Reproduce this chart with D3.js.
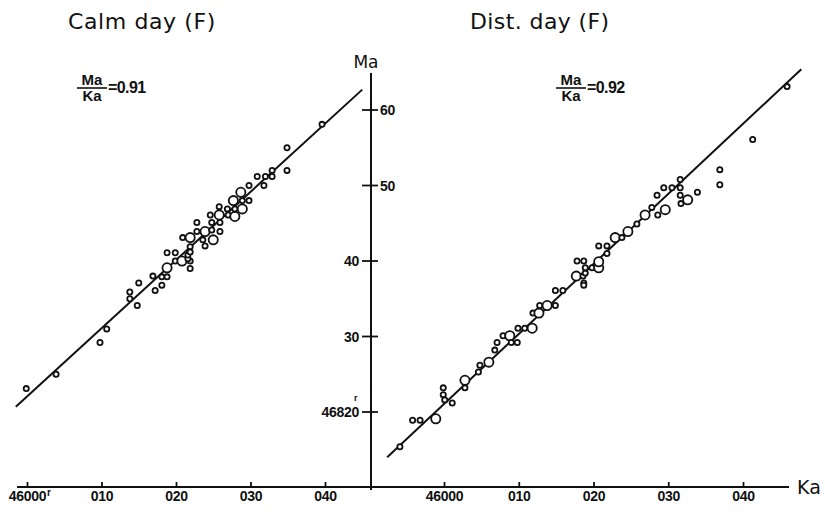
<!DOCTYPE html>
<html>
<head>
<meta charset="utf-8">
<script src="https://cdn.jsdelivr.net/npm/d3@7"></script>
<style>
  body { margin: 0; background: #fff; }
  svg { display: block; }
  text { fill: #111; }
</style>
</head>
<body>
<svg id="chart" width="825" height="514"></svg>
<script>
// values are offsets: Ka - 46000 and Ma - 46820 (gamma)
var KA_BASE = 46000, MA_BASE = 46820;
var kaTicks = [0, 10, 20, 30, 40];
var maTicks = [0, 10, 20, 30, 40];

// [Ka, Ma, size]  size 1 = small circle, 2 = big circle
var calmPoints = [
  [-0.1, 3.1, 1], [3.9, 5.0, 1], [9.8, 9.2, 1], [10.7, 11.0, 1],
  [14.8, 14.1, 1], [13.8, 15.0, 1], [13.8, 15.9, 1], [15.0, 17.1, 1],
  [16.9, 18.0, 1], [17.2, 16.1, 1], [18.1, 16.8, 1], [18.1, 17.9, 1],
  [18.8, 17.9, 1], [18.8, 19.1, 2], [21.9, 19.0, 1], [19.9, 20.0, 1],
  [20.8, 20.0, 2], [21.9, 20.0, 1], [18.8, 21.1, 1], [19.9, 21.1, 1],
  [21.6, 20.3, 1], [21.6, 20.8, 1], [21.9, 21.2, 1], [21.9, 21.9, 1],
  [20.9, 23.1, 1], [21.9, 23.1, 2], [23.9, 22.0, 1], [23.6, 22.8, 1],
  [25.0, 22.8, 2], [22.8, 23.9, 1], [23.9, 23.9, 2], [25.9, 23.9, 1],
  [24.8, 24.1, 1], [22.8, 25.1, 1], [24.8, 25.1, 1], [25.9, 25.1, 1],
  [24.6, 26.1, 1], [25.8, 26.1, 2], [27.0, 26.1, 1], [27.9, 25.9, 2],
  [25.8, 27.2, 1], [26.9, 26.9, 1], [27.9, 26.9, 1], [28.9, 26.9, 2],
  [27.7, 28.0, 2], [28.9, 28.0, 1], [29.8, 28.0, 1], [28.7, 29.1, 2],
  [29.8, 30.0, 1], [31.8, 30.0, 1], [30.9, 31.2, 1], [32.0, 31.2, 1],
  [32.9, 31.2, 1], [32.9, 32.0, 1], [34.9, 32.0, 1], [34.9, 35.0, 1],
  [39.6, 38.1, 1]
];

var distPoints = [
  [-5.9, -4.6, 1], [-4.2, -1.1, 1], [-3.2, -1.1, 1], [-1.1, -0.9, 2],
  [-0.1, 3.2, 1], [-0.1, 2.3, 1], [0.1, 1.6, 1], [1.1, 1.2, 1],
  [2.8, 4.2, 2], [2.8, 3.2, 1], [4.8, 6.2, 1], [4.6, 5.3, 1],
  [6.0, 6.6, 2], [6.8, 8.2, 1], [7.1, 9.2, 1], [7.9, 10.1, 1],
  [8.8, 10.1, 2], [9.0, 9.2, 1], [9.8, 9.2, 1], [9.9, 11.1, 1],
  [10.8, 11.1, 1], [11.8, 11.1, 2], [11.9, 13.1, 1], [12.7, 13.1, 2],
  [12.8, 14.1, 1], [13.8, 14.1, 2], [14.9, 14.1, 1], [14.9, 16.1, 1],
  [15.9, 16.1, 1], [17.7, 18.0, 2], [18.6, 18.0, 1], [18.7, 17.1, 1],
  [18.7, 16.8, 1], [18.9, 18.4, 1], [17.8, 20.0, 1], [18.7, 20.0, 1],
  [18.9, 19.1, 1], [19.8, 19.1, 1], [20.7, 19.1, 2], [20.7, 19.9, 2],
  [21.8, 21.0, 1], [20.7, 22.0, 1], [21.8, 22.0, 1], [22.9, 23.1, 2],
  [23.8, 23.1, 1], [24.6, 23.9, 2], [25.8, 24.9, 1], [26.9, 26.1, 2],
  [27.8, 27.1, 1], [28.6, 26.1, 1], [29.6, 26.8, 2], [28.5, 28.7, 1],
  [29.4, 29.7, 1], [30.5, 29.7, 1], [31.6, 29.7, 1], [31.6, 30.8, 1],
  [31.6, 28.7, 1], [31.7, 27.6, 1], [32.6, 28.1, 2], [33.9, 29.1, 1],
  [36.9, 32.1, 1], [36.9, 30.1, 1], [41.3, 36.1, 1], [45.9, 43.1, 1]
];

// fitted lines (end points)
var calmFit = [[-1.5, 0.7], [45.0, 42.7]];
var distFit = [[-7.6, -6.0], [47.8, 45.4]];

var svg = d3.select("#chart");
var font = "'DejaVu Sans', sans-serif";
var tickFont = "'Liberation Sans', Arial, sans-serif";

var xL = d3.scaleLinear().domain([0, 40]).range([27, 325]);
var xR = d3.scaleLinear().domain([0, 40]).range([444, 743]);
var y = d3.scaleLinear().domain([0, 40]).range([412, 110]);
var baseY = 487, axisX = 371;

function kaLabel(v) { return v == 0 ? String(KA_BASE) : d3.format("03d")((KA_BASE + v) % 1000); }
function maLabel(v) { return v == 0 ? String(MA_BASE) : String((MA_BASE + v) % 100); }

// horizontal Ka axis, one line for both panels
svg.append("line")
  .attr("x1", 17).attr("x2", 789).attr("y1", baseY).attr("y2", baseY)
  .attr("stroke", "#111").attr("stroke-width", 2);

function drawKaAxis(x) {
  var g = svg.append("g").attr("transform", "translate(0," + baseY + ")")
    .call(d3.axisBottom(x).tickValues(kaTicks).tickSizeInner(-5).tickSizeOuter(0)
      .tickPadding(4).tickFormat(kaLabel));
  g.select(".domain").remove();
  g.selectAll(".tick line").attr("stroke", "#111").attr("stroke-width", 1.8);
  g.selectAll(".tick text").attr("fill", "#111").attr("font-family", tickFont)
    .attr("font-weight", "bold").attr("font-size", 14).attr("letter-spacing", -0.3);
  return g;
}
drawKaAxis(xL);
drawKaAxis(xR);

// the little "r" after 46000 on the left axis
svg.append("text").attr("x", xL(0) + 20).attr("y", baseY + 9)
  .attr("font-family", tickFont).attr("font-weight", "bold").attr("font-size", 10).text("r");

svg.append("text").attr("x", 797).attr("y", baseY + 7)
  .attr("font-family", font).attr("font-size", 19).text("Ka");

// vertical Ma axis in the middle
svg.append("line")
  .attr("x1", axisX).attr("x2", axisX).attr("y1", 73).attr("y2", baseY + 3)
  .attr("stroke", "#111").attr("stroke-width", 2);

var maG = svg.append("g");
maTicks.forEach(function(v) {
  maG.append("line").attr("x1", axisX - 9).attr("x2", axisX + 7)
    .attr("y1", y(v)).attr("y2", y(v)).attr("stroke", "#111").attr("stroke-width", 1.8);
  var right = v >= 30;
  maG.append("text")
    .attr("x", right ? axisX + 9 : axisX - 12)
    .attr("y", y(v) + 5)
    .attr("text-anchor", right ? "start" : "end")
    .attr("font-family", tickFont).attr("font-weight", "bold").attr("font-size", 14)
    .attr("letter-spacing", -0.3)
    .text(maLabel(v));
});
svg.append("text").attr("x", axisX - 17).attr("y", y(0) - 11)
  .attr("font-family", tickFont).attr("font-weight", "bold").attr("font-size", 9).text("r");

svg.append("text").attr("x", axisX - 5).attr("y", 68).attr("text-anchor", "middle")
  .attr("font-family", font).attr("font-size", 17).text("Ma");

// titles
svg.append("text").attr("x", 68).attr("y", 29).attr("letter-spacing", 0.6)
  .attr("font-family", font).attr("font-size", 22).text("Calm day (F)");
svg.append("text").attr("x", 470).attr("y", 29).attr("letter-spacing", 0.4)
  .attr("font-family", font).attr("font-size", 22).text("Dist. day (F)");

function ratio(x0, value) {
  var g = svg.append("g").attr("font-family", tickFont).attr("font-weight", "bold").attr("font-size", 15);
  g.append("text").attr("x", x0 + 15).attr("y", 85).attr("text-anchor", "middle").text("Ma");
  g.append("line").attr("x1", x0).attr("x2", x0 + 30).attr("y1", 88).attr("y2", 88)
    .attr("stroke", "#111").attr("stroke-width", 1.6);
  g.append("text").attr("x", x0 + 15).attr("y", 101).attr("text-anchor", "middle").text("Ka");
  g.append("text").attr("x", x0 + 31).attr("y", 93).attr("font-size", 16).attr("letter-spacing", -0.6)
    .text("=" + value);
}
ratio(77, "0.91");
ratio(556, "0.92");

function drawPanel(points, fit, x) {
  svg.append("path")
    .datum(fit)
    .attr("d", d3.line().x(function(d) { return x(d[0]); }).y(function(d) { return y(d[1]); }))
    .attr("fill", "none").attr("stroke", "#111").attr("stroke-width", 2);

  svg.append("g").selectAll("circle")
    .data(points)
    .enter()
    .append("circle")
    .attr("cx", function(d) { return x(d[0]); })
    .attr("cy", function(d) { return y(d[1]); })
    .attr("r", function(d) { return d[2] == 2 ? 4.6 : 2.6; })
    .attr("fill", "#fff")
    .attr("stroke", "#111")
    .attr("stroke-width", 1.8);
}
drawPanel(calmPoints, calmFit, xL);
drawPanel(distPoints, distFit, xR);
</script>
</body>
</html>
